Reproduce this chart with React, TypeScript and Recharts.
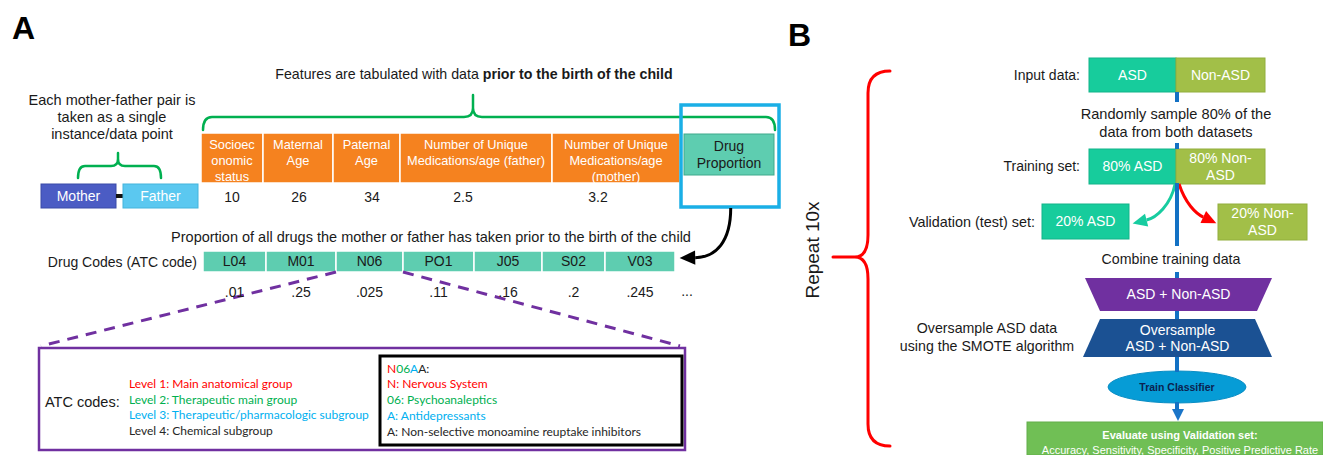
import React from 'react';
import { ComposedChart, XAxis, YAxis, Scatter, ReferenceArea, ReferenceLine } from 'recharts';

const W = 1323;
const H = 455;
const ARIAL = '"Liberation Sans", Arial, sans-serif';
const CALIBRI = 'Lato, "Open Sans", sans-serif';

// ---------- panel A content
const parents = ['Mother', 'Father'];
const featureNames = [
  ['Socioec', 'onomic', 'status'],
  ['Maternal', 'Age'],
  ['Paternal', 'Age'],
  ['Number of Unique', 'Medications/age (father)'],
  ['Number of Unique', 'Medications/age', '(mother)'],
];
const featureValues = ['10', '26', '34', '2.5', '3.2'];
const drugCodes = ['L04', 'M01', 'N06', 'PO1', 'J05', 'S02', 'V03'];
const drugProportions = ['.01', '.25', '.025', '.11', '.16', '.2', '.245'];
const atcLevels = [
  'Level 1: Main anatomical group',
  'Level 2: Therapeutic main group',
  'Level 3: Therapeutic/pharmacologic subgroup',
  'Level 4: Chemical subgroup',
];
const atcExampleCode = ['N', '06', 'A', 'A:'];
const atcExample = [
  'N: Nervous System',
  '06: Psychoanaleptics',
  'A: Antidepressants',
  'A: Non-selective monoamine reuptake inhibitors',
];

// ---------- panel B content
const inputSets = [['ASD'], ['Non-ASD']];
const trainSets = [['80% ASD'], ['80% Non-', 'ASD']];
const validationSets = [['20% ASD'], ['20% Non-', 'ASD']];
const metrics = ['Accuracy', 'Sensitivity', 'Specificity', 'Positive Predictive Rate'];

// ---------- layout (pixel grid of the figure)
const levelColors = ['#FF0000', '#00B050', '#00B0F0', '#262626'];
const featureEdges = [201, 263, 333, 400, 552, 680];
const featureValueX = [232, 299, 372, 463, 598];
const drugEdges = [203, 266, 336, 403, 474, 542, 605, 675];
const setEdges = [1089, 1176, 1265];

type Part = { t: string; c?: string; b?: boolean };
type Line = string | Part[];
type Label = {
  x: number; y: number; lines: Line[]; size: number; color?: string; bold?: boolean;
  anchor?: 'start' | 'middle' | 'end'; font?: string; lh?: number; rotate?: number;
};

const TextBlock = ({ x, y, lines, size, color = '#1a1a1a', bold = false, anchor = 'middle', font = ARIAL, lh, rotate }: Label) => {
  const step = lh ?? size * 1.2;
  const y0 = y - ((lines.length - 1) * step) / 2 + size * 0.35;
  return (
    <text
      x={x} y={y0} fontSize={size} fill={color} fontWeight={bold ? 'bold' : 'normal'}
      textAnchor={anchor} fontFamily={font}
      transform={rotate ? `rotate(${rotate} ${x} ${y})` : undefined}
    >
      {lines.map((ln, i) => (
        <tspan key={i} x={x} y={y0 + i * step}>
          {typeof ln === 'string'
            ? ln
            : ln.map((p, j) => (
                <tspan key={j} fill={p.c ?? color} fontWeight={p.b ? 'bold' : bold ? 'bold' : 'normal'}>{p.t}</tspan>
              ))}
        </tspan>
      ))}
    </text>
  );
};

const mid = (e: number[], i: number) => (e[i] + e[i + 1]) / 2;

const labels: Label[] = [
  { x: 12, y: 28, lines: ['A'], size: 32, bold: true, anchor: 'start', color: '#000' },
  { x: 788, y: 35, lines: ['B'], size: 32, bold: true, anchor: 'start', color: '#000' },
  { x: 474, y: 74, size: 14.2, lines: [[{ t: 'Features are tabulated with data ' }, { t: 'prior to the birth of the child', b: true }]] },
  { x: 112, y: 117, size: 14.5, lh: 17, lines: ['Each mother-father pair is', 'taken as a single', 'instance/data point'] },
  ...featureValues.map((v, i) => ({ x: featureValueX[i], y: 197, size: 14, lines: [v] })),
  { x: 431, y: 237, size: 14.5, lines: ['Proportion of all drugs the mother or father has taken prior to the birth of the child'] },
  { x: 197, y: 262, size: 14, anchor: 'end' as const, lines: ['Drug Codes (ATC code)'] },
  ...drugProportions.map((v, i) => ({ x: mid(drugEdges, i), y: 292, size: 14, lines: [v] })),
  { x: 687, y: 291, size: 14, lines: ['...'] },
  { x: 45, y: 402, size: 14.5, anchor: 'start' as const, lines: ['ATC codes:'] },
  ...atcLevels.map((t, i) => ({ x: 129, y: 384 + i * 15.6, size: 12, font: CALIBRI, anchor: 'start' as const, color: levelColors[i], lines: [t] })),
  { x: 387, y: 369, size: 12, font: CALIBRI, anchor: 'start' as const, lines: [atcExampleCode.map((t, i) => ({ t, c: levelColors[i] }))] },
  ...atcExample.map((t, i) => ({ x: 387, y: 384 + i * 15.8, size: 12, font: CALIBRI, anchor: 'start' as const, color: levelColors[i], lines: [t] })),
  { x: 1080, y: 75, size: 14, anchor: 'end' as const, lines: ['Input data:'] },
  { x: 1176, y: 123, size: 14.6, lh: 18, lines: ['Randomly sample 80% of the', 'data from both datasets'] },
  { x: 1080, y: 166, size: 14, anchor: 'end' as const, lines: ['Training set:'] },
  { x: 1035, y: 222, size: 14.4, anchor: 'end' as const, lines: ['Validation (test) set:'] },
  { x: 1171, y: 259, size: 14.2, lines: ['Combine training data'] },
  { x: 987, y: 337, size: 14.2, lh: 18, lines: ['Oversample ASD data', 'using the SMOTE algorithm'] },
  { x: 812, y: 250, size: 19, rotate: -90, lines: ['Repeat 10x'] },
];

type BoxOpts = {
  stroke?: string; sw?: number; lines?: Line[]; size?: number; color?: string; bold?: boolean;
  font?: string; lh?: number; top?: number; dx?: number; kind?: 'rect' | 'inv' | 'trap' | 'ellipse'; inset?: number;
};

const boxShape = (fill: string, o: BoxOpts = {}) => (p: any) => {
  const { x, y, width: w, height: h } = p;
  const kind = o.kind ?? 'rect';
  const n = o.inset ?? 0;
  let body: React.ReactNode;
  if (kind === 'inv') body = <polygon points={`${x},${y} ${x + w},${y} ${x + w - n},${y + h} ${x + n},${y + h}`} fill={fill} />;
  else if (kind === 'trap') body = <polygon points={`${x + n},${y} ${x + w - n},${y} ${x + w},${y + h} ${x},${y + h}`} fill={fill} />;
  else if (kind === 'ellipse') body = <ellipse cx={x + w / 2} cy={y + h / 2} rx={w / 2} ry={h / 2} fill={fill} stroke={o.stroke ?? 'none'} strokeWidth={o.sw ?? 0} />;
  else body = <rect x={x} y={y} width={w} height={h} fill={fill} stroke={o.stroke ?? 'none'} strokeWidth={o.sw ?? 0} />;
  const size = o.size ?? 14;
  const lh = o.lh ?? size * 1.15;
  const lines = o.lines ?? [];
  const ty = o.top !== undefined ? y + o.top + ((lines.length - 1) * lh) / 2 : y + h / 2;
  return (
    <g>
      {body}
      {lines.length > 0 && (
        <TextBlock x={x + w / 2 + (o.dx ?? 0)} y={ty} lines={lines} size={size} lh={lh}
          color={o.color ?? '#fff'} bold={o.bold} font={o.font} />
      )}
    </g>
  );
};

const hBrace = (color: string, tipFrac: number, lineFrac: number, r: number, sw: number) => (p: any) => {
  const { x, y, width: w, height: h } = p;
  const tx = x + w * tipFrac;
  const ym = y + h * lineFrac;
  const d = `M${x},${y + h} Q${x},${ym} ${x + r},${ym} L${tx - r},${ym} Q${tx},${ym} ${tx},${ym - r} L${tx},${y} ` +
    `M${tx},${ym - r} Q${tx},${ym} ${tx + r},${ym} L${x + w - r},${ym} Q${x + w},${ym} ${x + w},${y + h}`;
  return <path d={d} fill="none" stroke={color} strokeWidth={sw} strokeLinecap="round" />;
};

const vBrace = (color: string, tipFrac: number, lineFrac: number, r: number, sw: number) => (p: any) => {
  const { x, y, width: w, height: h } = p;
  const ty = y + h * tipFrac;
  const lx = x + w * lineFrac;
  const d = `M${x + w},${y} Q${lx},${y} ${lx},${y + r} L${lx},${ty - r} Q${lx},${ty} ${lx - r * 0.6},${ty} L${x},${ty} ` +
    `M${lx - r * 0.6},${ty} Q${lx},${ty} ${lx},${ty + r} L${lx},${y + h - r} Q${lx},${y + h} ${x + w},${y + h}`;
  return <path d={d} fill="none" stroke={color} strokeWidth={sw} strokeLinecap="round" />;
};

// curved arrow inside a box: points given as fractions of the box
const curveArrow = (color: string, sw: number, head: number, pts: number[][]) => (p: any) => {
  const { x, y, width: w, height: h } = p;
  const P = pts.map(([fx, fy]) => [x + w * fx, y + h * fy]);
  const [s, c1, c2, e] = P;
  const dx = e[0] - c2[0];
  const dy = e[1] - c2[1];
  const len = Math.hypot(dx, dy) || 1;
  const ux = dx / len;
  const uy = dy / len;
  const bx = e[0] - ux * head * 0.6;
  const by = e[1] - uy * head * 0.6;
  const tip = [e[0] + ux * head * 0.6, e[1] + uy * head * 0.6];
  const hw = head * 0.55;
  return (
    <g>
      <path d={`M${s[0]},${s[1]} C${c1[0]},${c1[1]} ${c2[0]},${c2[1]} ${bx},${by}`} fill="none" stroke={color} strokeWidth={sw} />
      <polygon points={`${tip[0]},${tip[1]} ${bx - uy * hw},${by + ux * hw} ${bx + uy * hw},${by - ux * hw}`} fill={color} />
    </g>
  );
};

const triangleDown = (fill: string) => (p: any) => (
  <polygon points={`${p.x},${p.y} ${p.x + p.width},${p.y} ${p.x + p.width / 2},${p.y + p.height}`} fill={fill} />
);

const LabelShape = (p: any) => <TextBlock {...(p.payload as Label)} x={p.cx} y={p.cy} />;

const ORANGE = '#F5821F';
const AQUA = '#5ECDB0';
const ASD = '#17CC9C';
const NON = '#A2BF48';
const PURPLE = '#7030A0';
const BLUE = '#1371C4';

const blueSegments = [[92, 102], [143, 149], [183, 246], [272, 278], [311, 319], [357, 372], [402, 410]];

export default function App() {
  return (
    <div style={{ position: 'absolute', left: 0, top: 0, width: W, height: H, background: '#fff' }}>
      <ComposedChart width={W} height={H} margin={{ top: 0, right: 0, bottom: 0, left: 0 }}>
        <XAxis type="number" dataKey="x" domain={[0, W]} allowDataOverflow hide />
        <YAxis type="number" dataKey="y" domain={[0, H]} allowDataOverflow reversed hide />

        {/* ---------- panel A ---------- */}
        <ReferenceArea x1={203} x2={775} y1={95} y2={130} shape={hBrace('#00B050', (473 - 203) / 572, 22 / 35, 9, 2.5)} />
        <ReferenceArea x1={78} x2={161} y1={153} y2={178} shape={hBrace('#00B050', 40 / 83, 13 / 25, 7, 2.5)} />
        <ReferenceArea x1={41} x2={116} y1={184} y2={208} shape={boxShape('#4B5CC4', { lines: [parents[0]], stroke: '#3A4AA8', sw: 1 })} />
        <ReferenceArea x1={116} x2={123} y1={194} y2={198} shape={boxShape('#111')} />
        <ReferenceArea x1={123} x2={198} y1={184} y2={208} shape={boxShape('#5BC8F0', { lines: [parents[1]], stroke: '#45B4DC', sw: 1 })} />
        {featureNames.map((f, i) => (
          <ReferenceArea key={`f${i}`} x1={featureEdges[i]} x2={featureEdges[i + 1]} y1={133} y2={183}
            shape={boxShape(ORANGE, { lines: f, size: 12.8, lh: 15.7, top: 12, stroke: '#fff', sw: 1.5 })} />
        ))}
        <ReferenceArea x1={681} x2={779} y1={105} y2={207} shape={boxShape('none', { stroke: '#1AAFE6', sw: 3.5 })} />
        <ReferenceArea x1={684} x2={774} y1={134} y2={175} shape={boxShape(AQUA, { lines: ['Drug', 'Proportion'], color: '#1a1a1a', lh: 16.5, stroke: '#3FA98C', sw: 1 })} />
        <ReferenceArea x1={676} x2={733} y1={208} y2={264}
          shape={curveArrow('#000', 3, 13, [[0.96, 0], [0.96, 0.6], [0.7, 0.88], [0.2, 0.89]])} />
        {drugCodes.map((c, i) => (
          <ReferenceArea key={`d${i}`} x1={drugEdges[i]} x2={drugEdges[i + 1]} y1={251} y2={272}
            shape={boxShape(AQUA, { lines: [c], color: '#1a1a1a', stroke: '#fff', sw: 1.5 })} />
        ))}
        <ReferenceLine segment={[{ x: 336, y: 272 }, { x: 41, y: 346 }]} stroke={PURPLE} strokeWidth={3} strokeDasharray="11 8" />
        <ReferenceLine segment={[{ x: 403, y: 272 }, { x: 680, y: 346 }]} stroke={PURPLE} strokeWidth={3} strokeDasharray="11 8" />
        <ReferenceArea x1={39} x2={685} y1={348} y2={450} shape={boxShape('#fff', { stroke: PURPLE, sw: 2.5 })} />
        <ReferenceArea x1={380} x2={682} y1={356} y2={445} shape={boxShape('#fff', { stroke: '#000', sw: 3 })} />

        {/* ---------- panel B ---------- */}
        <ReferenceArea x1={833} x2={890} y1={71} y2={446} shape={vBrace('#FF0000', (257 - 71) / 375, 35 / 57, 22, 3)} />
        {blueSegments.map(([a, b], i) => (
          <ReferenceLine key={`b${i}`} segment={[{ x: 1177, y: a }, { x: 1177, y: b }]} stroke={BLUE} strokeWidth={4} />
        ))}
        {inputSets.map((s, i) => (
          <ReferenceArea key={`in${i}`} x1={setEdges[i]} x2={setEdges[i + 1]} y1={58} y2={92}
            shape={boxShape(i === 0 ? ASD : NON, { lines: s, stroke: i === 0 ? '#12B48A' : '#92AE3C', sw: 1 })} />
        ))}
        {trainSets.map((s, i) => (
          <ReferenceArea key={`tr${i}`} x1={setEdges[i]} x2={setEdges[i + 1]} y1={149} y2={184}
            shape={boxShape(i === 0 ? ASD : NON, { lines: s, lh: 17, stroke: i === 0 ? '#12B48A' : '#92AE3C', sw: 1 })} />
        ))}
        <ReferenceArea x1={1042} x2={1129} y1={204} y2={239}
          shape={boxShape(ASD, { lines: validationSets[0], stroke: '#12B48A', sw: 1 })} />
        <ReferenceArea x1={1218} x2={1307} y1={204} y2={240}
          shape={boxShape(NON, { lines: validationSets[1], lh: 17, stroke: '#92AE3C', sw: 1 })} />
        <ReferenceArea x1={1130} x2={1178} y1={184} y2={226}
          shape={curveArrow('#17CCA0', 3, 12, [[0.94, 0], [0.85, 0.5], [0.55, 0.8], [0.2, 0.9]])} />
        <ReferenceArea x1={1177} x2={1218} y1={184} y2={226}
          shape={curveArrow('#FF0000', 3, 12, [[0.05, 0], [0.2, 0.45], [0.45, 0.7], [0.8, 0.86]])} />
        <ReferenceArea x1={1085} x2={1272} y1={278} y2={311}
          shape={boxShape(PURPLE, { kind: 'inv', inset: 15, lines: ['ASD + Non-ASD'] })} />
        <ReferenceArea x1={1083} x2={1272} y1={319} y2={357}
          shape={boxShape('#1B5193', { kind: 'trap', inset: 17, lines: ['Oversample', 'ASD + Non-ASD'], lh: 15.5 })} />
        <ReferenceArea x1={1108} x2={1246} y1={371} y2={403}
          shape={boxShape('#069CD6', { kind: 'ellipse', lines: ['Train Classifier'], size: 10.5, bold: true, color: '#0B2350', stroke: '#0A8DC4', sw: 1 })} />
        <ReferenceArea x1={1172} x2={1184} y1={409} y2={421} shape={triangleDown('#1B75C8')} />
        <ReferenceArea x1={1027} x2={W} y1={422} y2={H}
          shape={boxShape('#70BF55', {
            lines: [[{ t: 'Evaluate using Validation set:', b: true }], metrics.join(', ')],
            size: 11, lh: 15, top: 13, dx: 5, stroke: '#63AE4A', sw: 1,
          })} />

        <Scatter data={labels} shape={LabelShape} isAnimationActive={false} />
      </ComposedChart>
    </div>
  );
}
